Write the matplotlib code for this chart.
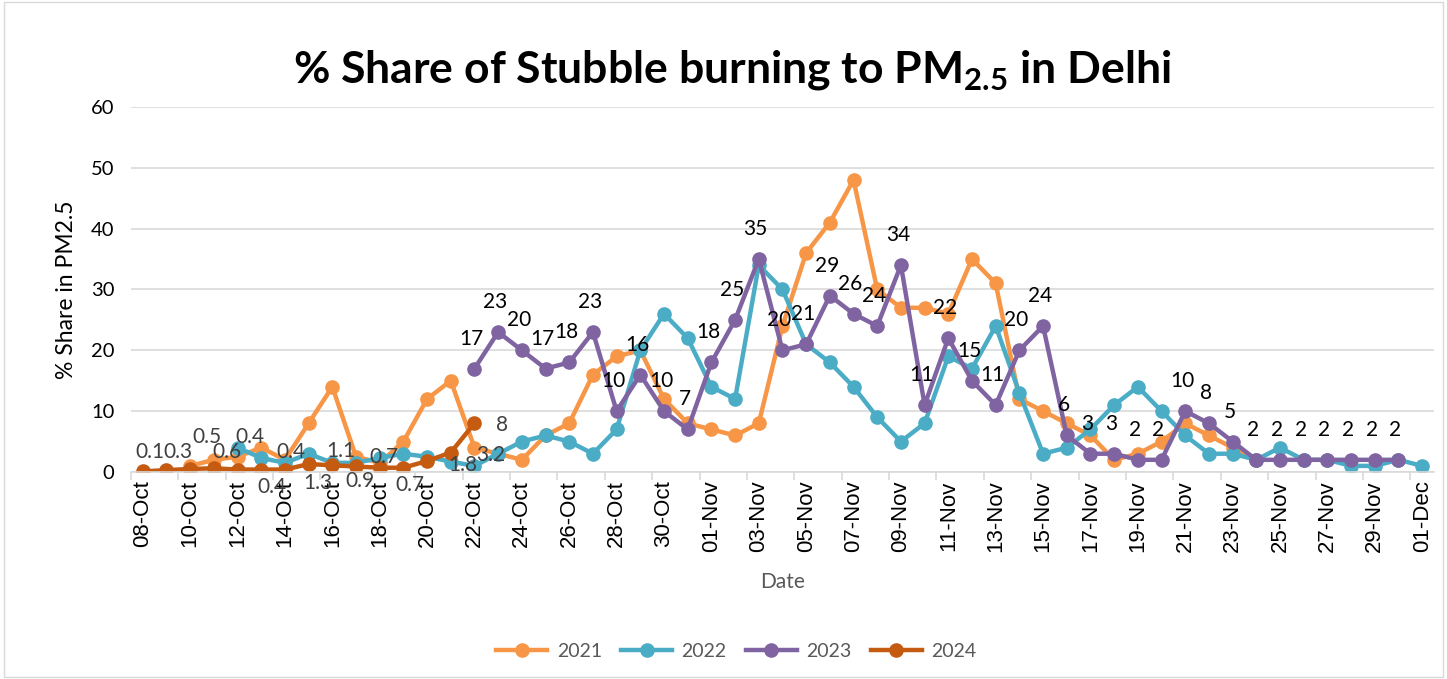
import numpy as np
import pandas as pd
import matplotlib
matplotlib.use("Agg")
import matplotlib.pyplot as plt
from matplotlib.patches import Rectangle

# Categories: one point per day, 08-Oct .. 01-Dec
dates = pd.date_range("2021-10-08", "2021-12-01", freq="D")
date_labels = [d.strftime("%d-%b") for d in dates]

# Series values (start label + daily values)
start_2021 = "10-Oct"
vals_2021 = [1, 2, 2.5, 4, 2, 8, 14, 2.5, 1.5, 5, 12, 15, 4, 3, 2, 6, 8, 16, 19, 20,
             12, 8, 7, 6, 8, 24, 36, 41, 48, 30, 27, 27, 26, 35, 31, 12, 10, 8, 6, 2,
             3, 5, 8, 6, 4, 2]

start_2022 = "12-Oct"
vals_2022 = [4, 2.3, 1.5, 3, 1.5, 1.5, 2.3, 3, 2.5, 1.7, 1, 3, 5, 6, 5, 3, 7, 20, 26, 22,
             14, 12, 34, 30, 21, 18, 14, 9, 5, 8, 19, 17, 24, 13, 3, 4, 7, 11, 14, 10,
             6, 3, 3, 2, 4, 2, 2, 1, 1, 2, 1]

start_2023 = "22-Oct"
vals_2023 = [17, 23, 20, 17, 18, 23, 10, 16, 10, 7, 18, 25, 35, 20, 21, 29, 26, 24, 34, 11,
             22, 15, 11, 20, 24, 6, 3, 3, 2, 2, 10, 8, 5, 2, 2, 2, 2, 2, 2, 2]

start_2024 = "08-Oct"
vals_2024 = [0.1, 0.3, 0.5, 0.6, 0.4, 0.4, 0.4, 1.3, 1.1, 0.9, 0.7, 0.7, 1.8, 3.2, 8]

# label offsets for the 2024 labels (pixels), moved by hand in the original
offsets_2024 = [(7, 19), (11, 18), (17, 32), (13, 16), (12, 33), (11, -17), (6, 18),
                (9, -19), (8, 14), (4, -15), (4, 11), (7, -17), (36, -4), (40, -2), (28, -2)]

COLORS = {"2021": "#F79646", "2022": "#4BACC6", "2023": "#8064A2", "2024": "#C55A11"}
FONT = "Lato"

plt.rcParams["font.family"] = [FONT, "DejaVu Sans"]
plt.rcParams["mathtext.fontset"] = "custom"
plt.rcParams["mathtext.rm"] = FONT
plt.rcParams["mathtext.bf"] = FONT + ":bold"


def to_series(start, values):
    i0 = date_labels.index(start)
    y = np.full(len(date_labels), np.nan)
    y[i0:i0 + len(values)] = values
    return y


def main():
    fig = plt.figure(figsize=(14.47, 6.79), dpi=100)
    ax = fig.add_axes([0.0905, 0.3049, 0.9005, 0.5375])
    x = np.arange(len(date_labels))

    series = [("2021", start_2021, vals_2021), ("2022", start_2022, vals_2022),
              ("2023", start_2023, vals_2023), ("2024", start_2024, vals_2024)]
    for name, start, vals in series:
        ax.plot(x, to_series(start, vals), color=COLORS[name], linewidth=3.2,
                marker="o", markersize=9.5, label=name)

    # data labels, 2023 above points
    i0 = date_labels.index(start_2023)
    for k, v in enumerate(vals_2023):
        ax.annotate(f"{v:g}", (i0 + k, v), xytext=(-3, 30), textcoords="offset pixels",
                    ha="center", va="center", fontsize=15, color="black")
    # data labels, 2024
    i0 = date_labels.index(start_2024)
    for k, v in enumerate(vals_2024):
        dx, dy = offsets_2024[k]
        ax.annotate(f"{v:g}", (i0 + k, v), xytext=(dx, dy), textcoords="offset pixels",
                    ha="center", va="center", fontsize=15, color="#404040")

    ax.set_xlim(-0.5, len(date_labels) - 0.5)
    ax.set_ylim(0, 60)
    ax.set_yticks(range(0, 61, 10))
    ax.yaxis.grid(True, color="#D9D9D9", linewidth=1.2)
    ax.set_axisbelow(True)
    for s in ["top", "right", "left"]:
        ax.spines[s].set_visible(False)
    ax.spines["bottom"].set_color("#D9D9D9")
    ax.spines["bottom"].set_linewidth(1.2)

    ax.set_xticks(x[::2])
    ax.set_xticklabels(date_labels[::2], rotation=90, fontsize=16,
                       family="Liberation Sans")
    ax.set_xticks(x[::2] - 0.5, minor=True)
    ax.tick_params(axis="x", which="major", length=0, pad=6)
    ax.tick_params(axis="x", which="minor", length=6, color="#D9D9D9", width=1.2)
    ax.tick_params(axis="y", length=0, labelsize=14.5, pad=12)

    ax.set_xlabel("Date", fontsize=15, color="#595959", labelpad=14)
    ax.set_ylabel("% Share in PM2.5", fontsize=16.5, labelpad=10)

    fig.text(0.506, 0.897, r"% Share of Stubble burning to PM$_{\mathbf{2.5}}$ in Delhi",
             ha="center", va="center", fontsize=32, fontweight="bold")

    leg = fig.legend(loc="center", bbox_to_anchor=(0.509, 0.041), ncol=4, frameon=False,
                     fontsize=14, handlelength=2.6, columnspacing=1.0, handletextpad=0.5)
    for t in leg.get_texts():
        t.set_color("#595959")

    fig.patches.append(Rectangle((0.003, 0.003), 0.994, 0.994, transform=fig.transFigure,
                                 fill=False, edgecolor="#D9D9D9", linewidth=1))
    fig.savefig("out.png", dpi=100)


if __name__ == "__main__":
    main()
